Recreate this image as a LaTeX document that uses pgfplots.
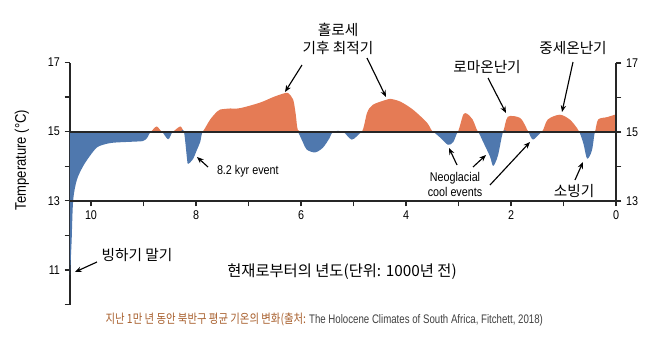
\documentclass[border=0pt]{standalone}
\usepackage{fontspec}
\setmainfont{Liberation Sans}
\newfontfamily\kr{Noto Sans CJK KR}
\newfontfamily\nar[FakeStretch=0.85]{Liberation Sans}
\newfontfamily\capnar[FakeStretch=0.78]{Liberation Sans}
\newfontfamily\krnar[FakeStretch=0.82]{Noto Sans CJK KR}
\usepackage{pgfplots}
\usepackage{pgfplotstable}
\pgfplotsset{compat=1.18}
\usetikzlibrary{arrows.meta}
\definecolor{warm}{HTML}{E57B55}
\definecolor{cool}{HTML}{4F78AE}
\definecolor{capbrown}{HTML}{A8602E}

\pgfplotstableread{
age T
10.40 10.85
10.37 11.8
10.34 13.0
10.27 13.6
10.15 14.0
10.02 14.3
9.89 14.54
9.77 14.62
9.58 14.68
9.20 14.71
9.01 14.73
8.93 14.82
8.86 15.0
8.75 15.15
8.65 15.0
8.53 14.78
8.44 15.0
8.30 15.15
8.23 15.0
8.17 14.2
8.15 14.07
8.06 14.2
7.98 14.48
7.92 14.7
7.87 15.0
7.73 15.35
7.60 15.58
7.54 15.64
7.35 15.67
7.16 15.68
6.78 15.84
6.53 16.0
6.34 16.1
6.25 16.12
6.15 15.93
6.10 15.5
6.06 15.05
5.96 14.68
5.89 14.48
5.73 14.4
5.58 14.54
5.45 14.83
5.39 15.0
5.20 15.0
5.03 14.77
4.84 15.0
4.74 15.55
4.63 15.78
4.36 15.93
4.30 15.95
4.11 15.87
3.87 15.64
3.60 15.26
3.49 15.0
3.35 14.83
3.20 14.62
3.10 14.7
3.01 15.0
2.91 15.49
2.84 15.52
2.73 15.35
2.63 15.0
2.53 14.7
2.40 14.28
2.34 14.01
2.25 14.3
2.15 15.0
2.06 15.43
1.83 15.4
1.72 15.15
1.67 15.0
1.58 14.77
1.41 15.0
1.30 15.35
1.07 15.49
0.88 15.35
0.74 15.1
0.70 15.0
0.62 14.65
0.55 14.22
0.46 14.45
0.40 15.0
0.34 15.35
0.17 15.42
0.00 15.5
}\tempdata

\begin{document}
\begin{tikzpicture}
\begin{scope}[x=0.75pt,y=-0.75pt]
\path[use as bounding box] (0,0) rectangle (650,336);
\end{scope}

% main axis: left temperature axis 10-17 and the curve
\begin{axis}[
  at={(52.5pt,-228.375pt)}, anchor=south west,
  scale only axis, width=409.5pt, height=181.5pt,
  xmin=0, xmax=10.4, x dir=reverse,
  ymin=10, ymax=17,
  axis x line=none, axis y line=left,
  axis line style={-, line width=0.9pt, black!85},
  ytick={10,11,12,13,14,15,16,17},
  yticklabels={,11,,13,,15,,17},
  tick align=outside, major tick length=4pt,
  tick style={line width=0.9pt, black!85},
  ticklabel style={font=\nar\fontsize{9.5}{11}\selectfont},
  /pgf/number format/assume math mode=true,
  clip=false,
]
\addplot[fill=warm, draw=none, smooth] table[x=age, y expr={max(\thisrow{T},15)}] {\tempdata}
  -- (axis cs:0,15) -- (axis cs:10.4,15) -- cycle;
\addplot[fill=cool, draw=none, smooth] table[x=age, y expr={min(\thisrow{T},15)}] {\tempdata}
  -- (axis cs:0,15) -- (axis cs:10.4,15) -- cycle;
\addplot[black!85, line width=1.3pt] coordinates {(10.4,15) (0,15)};
\end{axis}

% secondary axis: time axis at 13 and right temperature axis 13-17
\begin{axis}[
  at={(52.5pt,-150.75pt)}, anchor=south west,
  scale only axis, width=409.5pt, height=103.5pt,
  xmin=0, xmax=10.4, x dir=reverse,
  ymin=13, ymax=17,
  axis x line=bottom, axis y line=right,
  axis line style={-, line width=0.9pt, black!85},
  xtick={0,1,2,3,4,5,6,7,8,9,10},
  xticklabels={0,,2,,4,,6,,8,,10},
  ytick={13,14,15,16,17},
  yticklabels={13,,15,,17},
  tick align=outside, major tick length=4pt,
  tick style={line width=0.9pt, black!85},
  ticklabel style={font=\nar\fontsize{9.5}{11}\selectfont},
  /pgf/number format/assume math mode=true,
]
\addplot[draw=none] coordinates {(5,15)};
\end{axis}

\begin{scope}[x=0.75pt,y=-0.75pt, >={Stealth[length=5pt,width=4pt]}, line width=0.85pt]
% axis title
\node[rotate=90, font=\nar\fontsize{11.5}{13}\selectfont] at (22,160) {Temperature (°C)};
\node[font=\kr\fontsize{11.5}{13}\selectfont] at (342,272) {현재로부터의 년도(단위: 1000년 전)};
% annotations
\node[font=\kr\fontsize{11}{13}\selectfont] at (137,255) {빙하기 말기};
\draw[->] (97,262) -- (75,272);
\node[font=\nar\fontsize{9.5}{11}\selectfont, anchor=west] at (212,171) {8.2 kyr event};
\draw[->] (208,167) -- (197,157);
\node[font=\kr\fontsize{11}{13}\selectfont] at (338,30) {홀로세};
\node[font=\kr\fontsize{11}{13}\selectfont] at (338,48) {기후 최적기};
\draw[->] (302,65) -- (285,92);
\draw[->] (367,58) -- (386,97);
\node[font=\kr\fontsize{11}{13}\selectfont] at (487,67) {로마온난기};
\draw[->] (488,78) -- (506,113);
\node[font=\kr\fontsize{11}{13}\selectfont] at (573,48) {중세온난기};
\draw[->] (573,62) -- (562,112);
\node[font=\nar\fontsize{9.5}{11}\selectfont] at (455,178) {Neoglacial};
\node[font=\nar\fontsize{9.5}{11}\selectfont] at (455,192) {cool events};
\draw[->] (457,165) -- (449,148);
\draw[->] (473,167) -- (486,155);
\draw[->] (490,185) -- (530,142);
\node[font=\kr\fontsize{11}{13}\selectfont] at (574,191) {소빙기};
\draw[->] (575,180) -- (583,162);
% caption
\node[anchor=west, inner sep=0pt] at (105,320) {\krnar\fontsize{9.5}{11}\selectfont\color{capbrown}지난 1만 년 동안 북반구 평균 기온의 변화(출처: \capnar\fontsize{9.3}{11}\selectfont\color{black!75}The Holocene Climates of South Africa, Fitchett, 2018)};
\end{scope}
\end{tikzpicture}
\end{document}
